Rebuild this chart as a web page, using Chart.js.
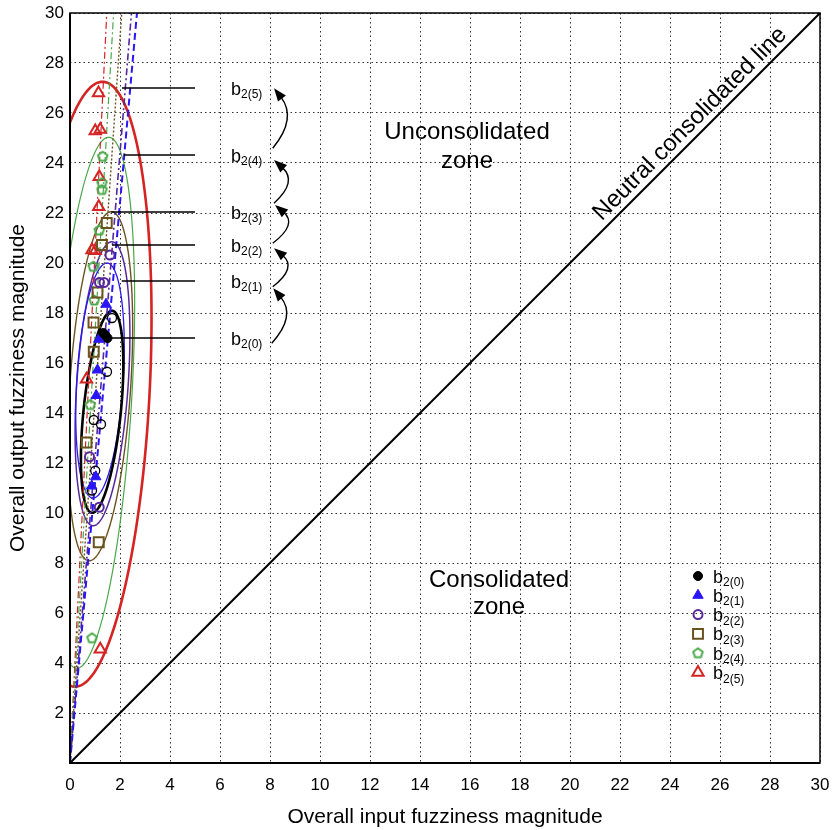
<!DOCTYPE html>
<html>
<head>
<meta charset="utf-8">
<script src="https://cdn.jsdelivr.net/npm/chart.js@4.4.1/dist/chart.umd.min.js"></script>
<style>
  html, body { margin: 0; padding: 0; background: #ffffff; }
  #wrap { width: 832px; height: 830px; }
</style>
</head>
<body>
<div id="wrap"><canvas id="chart" width="832" height="830"></canvas></div>
<script>
// ---- series ----
const seriesLabels = ['b2(0)', 'b2(1)', 'b2(2)', 'b2(3)', 'b2(4)', 'b2(5)'];
const seriesColors = ['#000000', '#2a16f5', '#57289c', '#6b5320', '#4aa84a', '#d42424'];

// observed (input, output) fuzziness magnitudes
const b20 = [[1.33, 17.2], [1.5, 17.0], [1.42, 17.1]];
const b20Open = [[1.68, 17.8], [1.48, 15.65], [0.95, 13.72], [1.24, 13.55], [1.01, 11.69], [0.88, 10.9]];
const b21 = [[1.44, 18.35], [1.15, 16.95], [1.1, 15.72], [1.05, 14.7], [1.03, 11.45], [0.87, 11.08]];
const b22 = [[1.6, 20.32], [1.18, 19.22], [1.36, 19.22], [0.78, 12.25], [1.17, 10.23]];
const b23 = [[1.47, 21.6], [1.28, 20.72], [1.1, 18.82], [0.94, 17.62], [0.95, 16.45], [0.66, 12.82], [1.15, 8.83]];
const b24 = [[1.31, 24.25], [1.28, 23.2], [1.28, 22.92], [1.17, 21.3], [0.93, 19.85], [0.97, 18.5], [0.81, 14.32], [0.88, 4.99]];
const b25 = [[1.14, 26.8], [1.01, 25.28], [1.21, 25.34], [1.17, 23.45], [1.15, 22.25], [0.88, 20.52], [1.01, 20.49], [0.66, 15.35], [1.21, 4.55]];

// fitted lines through the origin (output = slope * input), one per series
const fitSlopes = [null, 11.2, 12.2, 14.5, 17.2, 20.4];

// confidence ellipses: centre, half height, half width, lean (dx per unit dy)
const ellCX    = [1.285, 1.2, 1.3, 1.21, 0.91, 0.75];
const ellCY    = [14.05, 15.3, 15.17, 15.07, 14.41, 15.15];
const ellHalfH = [4.04, 4.7, 5.68, 6.98, 10.62, 12.1];
const ellHalfW = [0.75, 0.93, 1.03, 1.22, 1.55, 2.45];
const ellLean  = [0.098, 0.059, 0.066, 0.063, 0.06, 0.0455];

// call-out lines from each cluster to its label
const leaderY  = [17.0, 19.28, 20.72, 22.04, 24.32, 27.0];
const leaderX0 = [1.68, 2.07, 1.68, 1.65, 2.15, 2.08];
const leaderX1 = 5.0;
const labelX = 6.44;

// curved arrows between successive labels: [x0, y0, x1, y1]
const arrowPaths = [
  [8.07, 16.79, 8.13, 18.99],
  [8.11, 19.05, 8.16, 20.59],
  [8.11, 20.79, 8.2, 22.32],
  [8.16, 22.39, 8.16, 24.12],
  [8.11, 24.59, 8.16, 26.99]
];

const axisMin = 0, axisMax = 30, axisStep = 2;
const xTitle = 'Overall input fuzziness magnitude';
const yTitle = 'Overall output fuzziness magnitude';

const FONT = "'Liberation Sans', Arial, Helvetica, sans-serif";

function pentagon(color, r, lw) {
  const s = Math.ceil(2 * (r + lw)) + 1;
  const c = document.createElement('canvas');
  c.width = s; c.height = s;
  const g = c.getContext('2d');
  g.strokeStyle = color; g.lineWidth = lw; g.lineJoin = 'round';
  g.beginPath();
  for (let i = 0; i < 5; i++) {
    const a = -Math.PI / 2 + i * 2 * Math.PI / 5;
    const x = s / 2 + r * Math.cos(a), y = s / 2 + r * Math.sin(a);
    if (i) g.lineTo(x, y); else g.moveTo(x, y);
  }
  g.closePath(); g.stroke();
  return c;
}

const toXY = arr => arr.map(p => ({ x: p[0], y: p[1] }));

const markerStyles = [
  { pointStyle: 'circle',   radius: 4.5, borderWidth: 1,   fill: seriesColors[0] },
  { pointStyle: 'triangle', radius: 6,   borderWidth: 1,   fill: seriesColors[1] },
  { pointStyle: 'circle',   radius: 4.5, borderWidth: 2,   fill: 'rgba(0,0,0,0)' },
  { pointStyle: 'rect',     radius: 7,   borderWidth: 2,   fill: 'rgba(0,0,0,0)' },
  { pointStyle: pentagon(seriesColors[4], 5, 2), radius: 6, borderWidth: 2, fill: 'rgba(0,0,0,0)' },
  { pointStyle: 'triangle', radius: 6.5, borderWidth: 2,   fill: 'rgba(0,0,0,0)' }
];

const pointSets = [b20, b21, b22, b23, b24, b25];
const datasets = [];
pointSets.forEach((pts, i) => {
  const m = markerStyles[i];
  datasets.push({
    label: seriesLabels[i],
    data: toXY(pts),
    showLine: false,
    pointStyle: m.pointStyle,
    pointRadius: m.radius,
    pointBorderWidth: m.borderWidth,
    pointBorderColor: seriesColors[i],
    pointBackgroundColor: m.fill
  });
});
datasets.push({
  label: 'b2(0) open',
  data: toXY(b20Open),
  showLine: false,
  pointStyle: 'circle',
  pointRadius: 4.5,
  pointBorderWidth: 1.3,
  pointBorderColor: '#000000',
  pointBackgroundColor: 'rgba(0,0,0,0)'
});

const fitDash = [null, [7, 4], [7, 3, 2, 3], [2, 2], [7, 3, 2, 3], [7, 3, 2, 3]];
const fitWidth = [0, 2, 1.6, 1.4, 1.2, 1.2];
fitSlopes.forEach((m, i) => {
  if (m == null) return;
  datasets.push({
    type: 'line',
    label: seriesLabels[i] + ' fit',
    data: [{ x: 0, y: 0 }, { x: axisMax / m, y: axisMax }],
    borderColor: seriesColors[i],
    borderWidth: fitWidth[i],
    borderDash: fitDash[i],
    pointRadius: 0,
    fill: false
  });
});
// neutral consolidated line: output equals input
datasets.push({
  type: 'line',
  label: 'Neutral consolidated line',
  data: [{ x: axisMin, y: axisMin }, { x: axisMax, y: axisMax }],
  borderColor: '#000000',
  borderWidth: 2,
  pointRadius: 0,
  fill: false
});

function subLabel(ctx, text, x, y, big, small) {
  const base = text.slice(0, 1), sub = text.slice(1);
  ctx.textAlign = 'left';
  ctx.textBaseline = 'alphabetic';
  ctx.font = big + 'px ' + FONT;
  const wb = ctx.measureText(base).width;
  ctx.fillText(base, x, y);
  ctx.font = small + 'px ' + FONT;
  ctx.fillText(sub, x + wb, y + 3.5);
}

const ellipsePlugin = {
  id: 'ellipses',
  beforeDatasetsDraw(chart) {
    const { ctx, chartArea: a, scales: { x, y } } = chart;
    ctx.save();
    ctx.beginPath(); ctx.rect(a.left, a.top, a.right - a.left, a.bottom - a.top); ctx.clip();
    const widths = [2.6, 1.3, 1.5, 1.4, 1.2, 2.6];
    for (let i = ellCX.length - 1; i >= 0; i--) {
      ctx.strokeStyle = seriesColors[i];
      ctx.lineWidth = widths[i];
      ctx.beginPath();
      const n = 240;
      for (let k = 0; k <= n; k++) {
        const t = k / n * 2 * Math.PI;
        const vy = ellCY[i] + ellHalfH[i] * Math.sin(t);
        const vx = ellCX[i] + ellHalfW[i] * Math.cos(t) + ellLean[i] * (vy - ellCY[i]);
        const px = x.getPixelForValue(vx), py = y.getPixelForValue(vy);
        if (k) ctx.lineTo(px, py); else ctx.moveTo(px, py);
      }
      ctx.closePath();
      ctx.stroke();
    }
    ctx.restore();
  },
  afterDatasetsDraw(chart) {
    const { ctx, chartArea: a, scales: { x, y } } = chart;
    ctx.save();
    // plot frame
    ctx.strokeStyle = '#000';
    ctx.lineWidth = 1.5;
    ctx.strokeRect(a.left, a.top, a.right - a.left, a.bottom - a.top);
    ctx.lineWidth = 2;
    ctx.beginPath();
    ctx.moveTo(a.left, a.top); ctx.lineTo(a.left, a.bottom); ctx.lineTo(a.right, a.bottom);
    ctx.stroke();

    // call-out lines and labels
    ctx.fillStyle = '#000';
    ctx.lineWidth = 1.3;
    leaderY.forEach((v, i) => {
      const py = y.getPixelForValue(v);
      ctx.beginPath();
      ctx.moveTo(x.getPixelForValue(leaderX0[i]), py);
      ctx.lineTo(x.getPixelForValue(leaderX1), py);
      ctx.stroke();
      subLabel(ctx, seriesLabels[i], x.getPixelForValue(labelX), py + 6.5, 18, 12);
    });

    // curved arrows
    ctx.lineWidth = 1.4;
    arrowPaths.forEach(p => {
      const x0 = x.getPixelForValue(p[0]), y0 = y.getPixelForValue(p[1]);
      const x1 = x.getPixelForValue(p[2]), y1 = y.getPixelForValue(p[3]);
      const cx = (x0 + x1) / 2 + 24, cy = (y0 + y1) / 2;
      const ang = Math.atan2(y1 - cy, x1 - cx);
      const L = 13, W = 5;
      const bx = x1 - L * Math.cos(ang), by = y1 - L * Math.sin(ang);
      ctx.beginPath();
      ctx.moveTo(x0, y0);
      ctx.quadraticCurveTo(cx, cy, bx + 2 * Math.cos(ang), by + 2 * Math.sin(ang));
      ctx.stroke();
      ctx.beginPath();
      ctx.moveTo(x1, y1);
      ctx.lineTo(bx + W * Math.sin(ang), by - W * Math.cos(ang));
      ctx.lineTo(bx - W * Math.sin(ang), by + W * Math.cos(ang));
      ctx.closePath();
      ctx.fill();
    });

    // zone captions
    ctx.font = '24px ' + FONT;
    ctx.textAlign = 'center';
    ctx.textBaseline = 'alphabetic';
    ctx.fillText('Unconsolidated', x.getPixelForValue(15.88), y.getPixelForValue(24.96));
    ctx.fillText('zone', x.getPixelForValue(15.88), y.getPixelForValue(23.8));
    ctx.fillText('Consolidated', x.getPixelForValue(17.16), y.getPixelForValue(7.04));
    ctx.fillText('zone', x.getPixelForValue(17.16), y.getPixelForValue(5.98));

    // caption along the neutral line
    ctx.save();
    ctx.translate(x.getPixelForValue(24.8), y.getPixelForValue(25.56));
    ctx.rotate(-Math.PI / 4);
    ctx.textBaseline = 'middle';
    ctx.font = '24px ' + FONT;
    ctx.fillText('Neutral consolidated line', 0, 0);
    ctx.restore();

    // legend
    const lx = a.right - 122, ly0 = a.bottom - 187, step = 19.3;
    seriesLabels.forEach((lab, i) => {
      const m = markerStyles[i];
      const cy = ly0 + i * step;
      ctx.save();
      ctx.fillStyle = m.fill;
      ctx.strokeStyle = seriesColors[i];
      ctx.lineWidth = m.borderWidth;
      Chart.helpers.drawPoint(ctx, { pointStyle: m.pointStyle, radius: m.radius, borderWidth: m.borderWidth, rotation: 0 }, lx, cy);
      ctx.restore();
      ctx.fillStyle = '#000';
      subLabel(ctx, lab, lx + 15, cy + 6.5, 18, 12);
    });
    ctx.restore();
  }
};

const tickFont = { family: FONT, size: 17 };
const titleFont = { family: FONT, size: 21, lineHeight: 1.2 };

new Chart(document.getElementById('chart'), {
  type: 'scatter',
  data: { datasets },
  options: {
    responsive: false,
    animation: false,
    layout: { padding: { top: 13, right: 12, left: 0, bottom: 0 } },
    plugins: { legend: { display: false }, tooltip: { enabled: false } },
    scales: {
      x: {
        type: 'linear', min: axisMin, max: axisMax,
        ticks: { stepSize: axisStep, font: tickFont, color: '#000', padding: 12 },
        grid: { color: '#333', lineWidth: 1, drawTicks: false },
        border: { display: false, dash: [1.5, 3] },
        title: { display: true, text: xTitle, font: titleFont, color: '#000', padding: { top: 0, bottom: 0 } },
        afterFit: s => { s.height = 67; s.paddingLeft = 0; s.paddingRight = 0; }
      },
      y: {
        type: 'linear', min: axisMin, max: axisMax,
        ticks: { stepSize: axisStep, font: tickFont, color: '#000', padding: 6,
                 callback: v => (v === 0 ? '' : v) },
        grid: { color: '#333', lineWidth: 1, drawTicks: false },
        border: { display: false, dash: [1.5, 3] },
        title: { display: true, text: yTitle, font: titleFont, color: '#000', padding: { top: 6, bottom: 0 } },
        afterFit: s => { s.width = 70; s.paddingTop = 0; s.paddingBottom = 0; }
      }
    }
  },
  plugins: [ellipsePlugin]
});
</script>
</body>
</html>
